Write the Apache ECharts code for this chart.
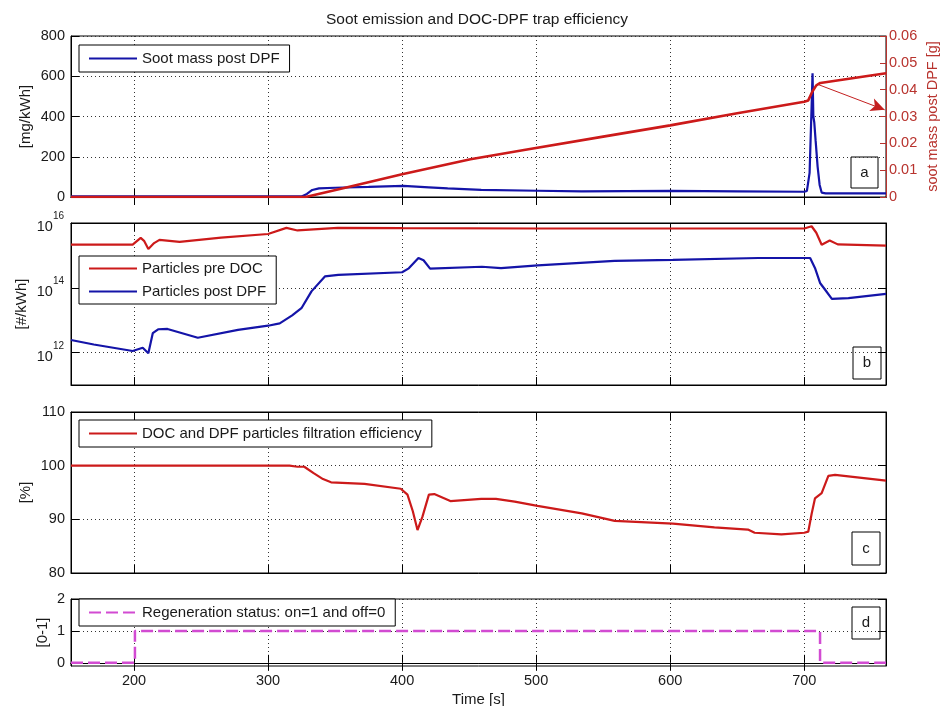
<!DOCTYPE html>
<html>
<head>
<meta charset="utf-8">
<script src="https://cdn.jsdelivr.net/npm/echarts@6/dist/echarts.min.js"></script>
<style>
  html, body { margin: 0; padding: 0; background: #fff; }
  #chart { width: 941px; height: 706px; }
</style>
</head>
<body>
<div id="chart"></div>
<script>
// Time axis ticks [s]
const timeTicks = [200, 300, 400, 500, 600, 700];

// (a) Soot mass post DPF [mg/kWh]
const sootTime = [153, 325, 329, 333, 338, 350, 375, 401, 420, 434, 459, 501, 534, 601, 650, 700, 702, 704, 705.5, 706.2, 706.8, 707.5, 708.5, 710, 711.5, 713, 716, 761];
const sootMass = [3, 3, 15, 35, 43, 46, 50, 55, 48, 43, 35, 31, 28, 30, 28, 26, 30, 120, 450, 615, 400, 370, 280, 150, 60, 22, 18, 18];

// (a) Cumulated soot mass post DPF [g]
const cumTime = [153, 328, 356, 400, 451, 491, 550, 600, 650, 700, 703, 706, 709, 712, 761];
const cumMass = [0, 0, 0.0033, 0.0085, 0.0141, 0.0175, 0.0225, 0.0267, 0.0312, 0.0355, 0.036, 0.0392, 0.0416, 0.0425, 0.0461];

// (a) annotation arrow towards the right axis [s, g]
const arrowFrom = [711, 0.0418];
const arrowTo = [760, 0.0325];

// (b) Particle number [#/kWh]
const preTime = [153, 199, 205, 207.5, 210.7, 215, 219, 234, 265, 300, 313.7, 322, 352, 400, 500, 600, 700, 705.5, 709, 713, 719, 725, 761];
const preDOC = [2.14e15, 2.14e15, 3.47e15, 2.82e15, 1.58e15, 2.4e15, 3.02e15, 2.63e15, 3.55e15, 4.57e15, 7.08e15, 5.89e15, 7.08e15, 6.9e15, 6.76e15, 6.76e15, 6.76e15, 7.94e15, 5.0e15, 2.14e15, 2.88e15, 2.19e15, 2.0e15];

const postTime = [153, 170, 199, 206.5, 210.7, 214, 218, 225, 247.6, 277.6, 300, 308.7, 318, 324.9, 332.4, 342.4, 352.4, 400, 405, 412.2, 416, 420.9, 459.6, 473.8, 501.2, 558.5, 602, 665.7, 704.4, 708, 711.8, 715.6, 720.6, 733, 761];
const postDPF = [2.45e12, 1.78e12, 1.12e12, 1.41e12, 9.5e11, 3.98e12, 5.25e12, 5.37e12, 2.88e12, 5.01e12, 6.76e12, 7.94e12, 1.41e13, 2.34e13, 7.76e13, 2.24e14, 2.51e14, 3.02e14, 3.98e14, 8.32e14, 7.08e14, 3.89e14, 4.47e14, 4.07e14, 4.9e14, 6.76e14, 7.24e14, 8.3e14, 8.3e14, 4.1e14, 1.41e14, 8.7e13, 4.57e13, 4.8e13, 6.5e13];
const particleTicks = [1e12, 1e14, 1e16];

// (c) DOC + DPF filtration efficiency [%]
const effTime = [153, 300, 316, 322, 327, 334, 341, 347, 372, 399, 404, 408, 411.5, 415.2, 420, 424, 436, 459, 470, 484, 501, 534, 558.6, 602, 633, 658, 663, 683, 700, 703, 705.5, 708, 713, 718, 723, 761];
const efficiency = [100, 100, 100, 99.8, 99.8, 98.6, 97.5, 96.9, 96.6, 95.7, 94.6, 91.5, 88.0, 90.5, 94.6, 94.7, 93.4, 93.8, 93.8, 93.3, 92.5, 91.1, 89.7, 89.2, 88.5, 88.1, 87.5, 87.2, 87.5, 87.7, 91, 93.9, 94.9, 98.1, 98.3, 97.2];

// (d) Regeneration status
const regenTime = [153, 200.7, 711.8, 761];
const regenStatus = [0, 1, 0, 0];
const regenTicks = [0, 1, 2];

const FONT = "'Liberation Sans', Arial, sans-serif";
const TXT = '#1a1a1a';
const RED = '#cc1a1a';
const BLUE = '#1414a8';
const MAGENTA = '#d24bd2';
const AXRED = '#b8332e';

const zip = (xs, ys) => xs.map((x, i) => [x, ys[i]]);

const grids = [
  { left: 71, top: 36, width: 815, height: 161 },
  { left: 71, top: 223, width: 815, height: 162 },
  { left: 71, top: 412, width: 815, height: 161 },
  { left: 71, top: 599, width: 815, height: 67 }
].map(g => Object.assign({
  show: true, borderColor: '#000', borderWidth: 1, backgroundColor: '#fff',
  containLabel: false, outerBoundsMode: 'none'
}, g));

const dotted = { show: true, lineStyle: { color: '#333', width: 1, type: [1, 3] } };
const tickIn = (color) => ({ show: true, inside: true, length: 8, lineStyle: { color: color || '#000', width: 1 } });
const labelStyle = { color: TXT, fontSize: 14.5, fontFamily: FONT };

function xAxisFor(gridIndex, bottom, withLabels) {
  return {
    type: 'value', gridIndex, min: 153, max: 761,
    position: bottom ? 'bottom' : 'top',
    axisLine: { show: true, lineStyle: { color: '#000' } },
    axisTick: Object.assign(tickIn(), { customValues: timeTicks }),
    axisLabel: bottom && withLabels
      ? Object.assign({ show: true, margin: 7, customValues: timeTicks }, labelStyle)
      : { show: false, customValues: timeTicks },
    splitLine: bottom ? dotted : { show: false },
    name: bottom && withLabels ? 'Time [s]' : '',
    nameLocation: 'middle', nameGap: 26, nameMoveOverlap: false,
    nameTextStyle: { color: TXT, fontSize: 15, fontFamily: FONT }
  };
}

const xAxes = [
  xAxisFor(0, true, false), xAxisFor(1, true, false), xAxisFor(2, true, false), xAxisFor(3, true, true),
  xAxisFor(0, false), xAxisFor(1, false), xAxisFor(2, false), xAxisFor(3, false)
];

function yMirror(base) {
  return Object.assign({}, base, {
    position: 'right',
    name: '',
    axisLabel: Object.assign({}, base.axisLabel, { show: false }),
    splitLine: { show: false }
  });
}

const yName = (name, gap) => ({
  name, nameLocation: 'middle', nameRotate: 90, nameGap: gap, nameMoveOverlap: false,
  nameTextStyle: { color: TXT, fontSize: 15, fontFamily: FONT }
});

const ySoot = Object.assign({
  type: 'value', gridIndex: 0, min: 0, max: 800, interval: 200, position: 'left',
  axisLine: { show: true, lineStyle: { color: '#000' } },
  axisTick: tickIn(),
  axisLabel: Object.assign({ margin: 6 }, labelStyle),
  splitLine: dotted
}, yName('[mg/kWh]', 38));

const yCum = {
  type: 'value', gridIndex: 0, min: 0, max: 0.06, interval: 0.01, position: 'right',
  axisLine: { show: true, lineStyle: { color: AXRED } },
  axisTick: { show: true, inside: true, length: 6, lineStyle: { color: AXRED } },
  axisLabel: { margin: 3, color: AXRED, fontSize: 14.5, fontFamily: FONT },
  splitLine: { show: false },
  name: 'soot mass post DPF [g]', nameLocation: 'middle', nameRotate: 90, nameGap: 39,
  nameMoveOverlap: false,
  nameTextStyle: { color: AXRED, fontSize: 14.5, fontFamily: FONT }
};

const yParticles = Object.assign({
  type: 'log', logBase: 10, gridIndex: 1, min: 1e11, max: 1e16, position: 'left',
  axisLine: { show: true, lineStyle: { color: '#000' } },
  axisTick: Object.assign(tickIn(), { customValues: particleTicks }),
  axisLabel: {
    margin: 7, customValues: particleTicks,
    formatter: v => '{b|10}{s|' + Math.round(Math.log10(v)) + '}',
    rich: {
      b: { color: TXT, fontSize: 14.5, fontFamily: FONT, padding: [8, 0, 0, 0] },
      s: { color: TXT, fontSize: 10, fontFamily: FONT, verticalAlign: 'top' }
    }
  },
  splitLine: dotted
}, yName('[#/kWh]', 42));

const yEff = Object.assign({
  type: 'value', gridIndex: 2, min: 80, max: 110, interval: 10, position: 'left',
  axisLine: { show: true, lineStyle: { color: '#000' } },
  axisTick: tickIn(),
  axisLabel: Object.assign({ margin: 6 }, labelStyle),
  splitLine: dotted
}, yName('[%]', 38));

const yRegen = Object.assign({
  type: 'value', gridIndex: 3, min: -0.1, max: 2, position: 'left',
  axisLine: { show: true, lineStyle: { color: '#000' } },
  axisTick: Object.assign(tickIn(), { customValues: regenTicks }),
  axisLabel: Object.assign({ margin: 6, customValues: regenTicks }, labelStyle),
  splitLine: dotted
}, yName('[0-1]', 21));

const yAxes = [ySoot, yCum, yParticles, yMirror(yParticles), yEff, yMirror(yEff), yRegen, yMirror(yRegen)];

const lineSeries = (name, xi, yi, data, color, extra) => Object.assign({
  type: 'line', name, xAxisIndex: xi, yAxisIndex: yi, data,
  showSymbol: false, symbol: 'none', clip: true,
  lineStyle: { color, width: 2.2 }, itemStyle: { color }
}, extra || {});

const legendBase = {
  orient: 'vertical', left: 79, padding: [6, 10, 6, 9],
  itemWidth: 48, itemHeight: 14, itemGap: 8,
  borderColor: '#000', borderWidth: 1, borderRadius: 0, backgroundColor: '#fff',
  selectedMode: false,
  itemStyle: { opacity: 0 },
  textStyle: { color: TXT, fontSize: 15, fontFamily: FONT }
};

const tags = [
  { t: 'a', x: 851, y: 157, w: 27, h: 31 },
  { t: 'b', x: 853, y: 347, w: 28, h: 32 },
  { t: 'c', x: 852, y: 532, w: 28, h: 33 },
  { t: 'd', x: 852, y: 607, w: 28, h: 32 }
];

const option = {
  animation: false,
  backgroundColor: '#fff',
  title: {
    text: 'Soot emission and DOC-DPF trap efficiency',
    left: 477, top: 12, padding: 0, textAlign: 'center',
    textStyle: { color: TXT, fontSize: 15.5, fontWeight: 'normal', fontFamily: FONT }
  },
  grid: grids,
  xAxis: xAxes,
  yAxis: yAxes,
  legend: [
    Object.assign({}, legendBase, { top: 45, data: ['Soot mass post DPF'] }),
    Object.assign({}, legendBase, { top: 256, padding: [5, 10, 5, 9], data: ['Particles pre DOC', 'Particles post DPF'] }),
    Object.assign({}, legendBase, { top: 420, data: ['DOC and DPF particles filtration efficiency'] }),
    Object.assign({}, legendBase, { top: 599, data: ['Regeneration status: on=1 and off=0'] })
  ],
  series: [
    lineSeries('Soot mass post DPF', 0, 0, zip(sootTime, sootMass), BLUE),
    lineSeries('Cumulated soot mass post DPF', 0, 1, zip(cumTime, cumMass), RED, {
      lineStyle: { color: RED, width: 2.6 },
      markLine: {
        silent: true, symbol: ['none', 'arrow'], symbolSize: [10, 14],
        label: { show: false },
        lineStyle: { color: '#c42020', width: 1, type: 'solid' },
        data: [[{ coord: arrowFrom }, { coord: arrowTo }]]
      }
    }),
    lineSeries('Particles pre DOC', 1, 2, zip(preTime, preDOC), RED),
    lineSeries('Particles post DPF', 1, 2, zip(postTime, postDPF), BLUE),
    lineSeries('DOC and DPF particles filtration efficiency', 2, 4, zip(effTime, efficiency), RED),
    lineSeries('Regeneration status: on=1 and off=0', 3, 6, zip(regenTime, regenStatus), MAGENTA, {
      step: 'end',
      lineStyle: { color: MAGENTA, width: 2.5, type: [12, 5] }
    })
  ],
  graphic: tags.map(g => ({
    type: 'group', x: g.x, y: g.y, z: 100,
    children: [
      { type: 'rect', shape: { x: 0, y: 0, width: g.w, height: g.h }, style: { fill: '#fff', stroke: '#000', lineWidth: 1 } },
      { type: 'text', x: g.w / 2, y: g.h / 2, style: { text: g.t, fill: TXT, font: '15px ' + FONT, align: 'center', verticalAlign: 'middle' } }
    ]
  }))
};

const chart = echarts.init(document.getElementById('chart'), null, { renderer: 'canvas' });
chart.setOption(option);
</script>
</body>
</html>
